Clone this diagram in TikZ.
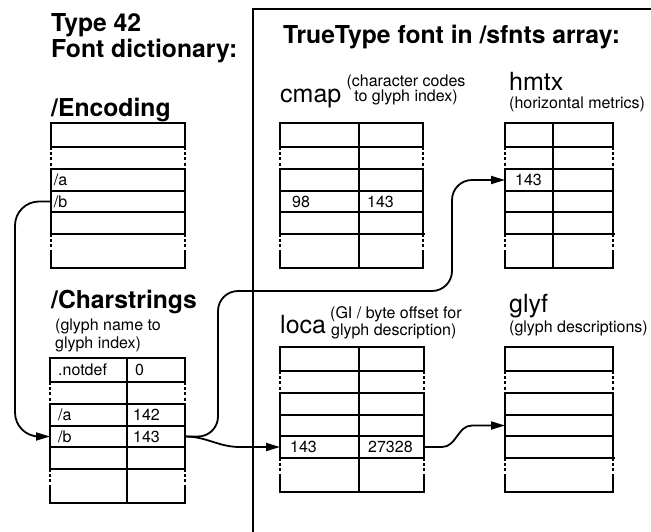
\documentclass[tikz,border=0pt]{standalone}
\usepackage{fontspec}
\setmainfont{TeX Gyre Heros}
\usetikzlibrary{positioning,arrows.meta}

\tikzset{
  tabline/.style={line width=1.9pt, line cap=rect},
  gapline/.style={line width=1.9pt, dash pattern=on 3pt off 2.2pt},
  rowcell/.style={inner sep=0pt, outer sep=0pt, anchor=north west},
  conn/.style={line width=1.8pt, -{Triangle[length=14pt,width=8pt]}},
  head/.style={font=\fontsize{24.7pt}{26pt}\selectfont\bfseries, inner sep=0pt, anchor=base west},
  tabname/.style={font=\fontsize{25pt}{26pt}\selectfont, inner sep=0pt, anchor=base west},
  note/.style={font=\fontsize{16pt}{17pt}\selectfont, inner sep=0pt, anchor=base west},
  cell/.style={font=\fontsize{16pt}{17pt}\selectfont, inner sep=0pt, text height=11.5pt, text depth=0pt},
}

% table of six rows: name, left, top, right
\newcommand{\datatable}[4]{%
  \foreach \k/\ya/\yb in {1/0/24,2/24/46,3/46/68,4/68/89,5/89/111,6/111/145}
    \path (#2,#3+\ya) node[rowcell, minimum width={(#4-#2)*1pt}, minimum height={(\yb-\ya)*1pt}] (#1\k) {};
  \foreach \ya in {0,24,46,68,89,145}
    \draw[tabline] (#2,#3+\ya) -- (#4,#3+\ya);
  \draw[tabline, line width=2.4pt] (#2,#3+111) -- (#4,#3+111);
  \foreach \xx in {#2,#4}{
    \draw[tabline] (\xx,#3) -- (\xx,#3+24);
    \draw[gapline] (\xx,#3+24) -- (\xx,#3+46);
    \draw[tabline] (\xx,#3+46) -- (\xx,#3+111);
    \draw[gapline] (\xx,#3+111) -- (\xx,#3+128);
    \draw[tabline] (\xx,#3+128) -- (\xx,#3+145);
  }%
}

\begin{document}
\begin{tikzpicture}[x=1pt,y=-1pt]
  \useasboundingbox (0,0) rectangle (651,531);
  \draw[tabline] (655,9) -- (253,9) -- (253,535);

  % font dictionary side
  \node[head] (t42a) at (51,31) {Type 42};
  \node[head] (t42b) at (51,57) {Font dictionary:};
  \node[head] (enchead) at (51,116) {/Encoding};
  \node[head] (cshead) at (51,308) {/Charstrings};
  \node[note] (csnote1) at (55,330) {(glyph name to};
  \node[note] (csnote2) at (55,348) {glyph index)};

  \datatable{enc}{50.7}{123}{185}
  \datatable{cs}{50}{358}{185}
  \draw[tabline] (126.7,358) -- (126.7,503);

  \node[cell, right=3pt of enc3.west] (enca) {/a};
  \node[cell, right=3pt of enc4.west] (encb) {/b};
  \node[cell, right=8pt of cs1.west] (csnd) {.notdef};
  \node[cell, right=85pt of cs1.west] (csnd0) {0};
  \node[cell, right=8pt of cs3.west] (csa) {/a};
  \node[cell, right=83pt of cs3.west] (csa142) {142};
  \node[cell, right=8pt of cs4.west] (csb) {/b};
  \node[cell, right=83pt of cs4.west] (csb143) {143};

  % sfnts side
  \node[head] (tthead) at (283,43) {TrueType font in /sfnts array:};
  \node[tabname] (cmaphead) at (280,102) {cmap};
  \node[note, anchor=base] (cmapnote1) at (406,86) {(character codes};
  \node[note, anchor=base] (cmapnote2) at (406,101) {to glyph index)};
  \node[tabname] (hmtxhead) at (509,90) {hmtx};
  \node[note] (hmtxnote) at (509,108) {(horizontal metrics)};
  \node[tabname] (locahead) at (280,333) {loca};
  \node[note] (locanote1) at (330,318) {(GI / byte offset for};
  \node[note] (locanote2) at (331,335) {glyph description)};
  \node[tabname] (glyfhead) at (509,312) {glyf};
  \node[note] (glyfnote) at (509,332) {(glyph descriptions)};

  \datatable{cmap}{280}{123}{423.3}
  \draw[tabline] (359.3,123) -- (359.3,268);
  \datatable{hmtx}{505}{123}{613.3}
  \draw[tabline] (553.3,123) -- (553.3,268);
  \datatable{loca}{280}{347}{424}
  \draw[tabline] (359.3,347) -- (359.3,492);
  \datatable{glyf}{505}{347}{613.3}

  \node[cell, right=12pt of cmap4.west] (cmap98) {98};
  \node[cell, right=87pt of cmap4.west] (cmap143) {143};
  \node[cell, right=10pt of hmtx3.west] (hmtx143) {143};
  \node[cell, right=10pt of loca5.west] (loca143) {143};
  \node[cell, right=88pt of loca5.west] (loca27328) {27328};

  % connectors
  \coordinate (laneL) at (15,0);
  \coordinate (riseA) at (218,291);
  \coordinate (riseB) at (452,291);
  \coordinate (dip) at (240,447);
  \coordinate (hopA) at (442,447);
  \coordinate (hopB) at (472,425.5);
  \draw[conn, rounded corners=24pt] (enc4.west) -| (laneL |- cs4.west) -- (cs4.west);
  \draw[conn, rounded corners=20pt] (cs4.east) -| (riseA) -- (riseB) |- (hmtx3.west);
  \draw[conn] (cs4.east) to[out=0,in=180] (dip) -- (loca5.west);
  \draw[conn] (loca5.east) -- (hopA) to[out=0,in=180] (hopB) -- (glyf4.west);
\end{tikzpicture}
\end{document}
